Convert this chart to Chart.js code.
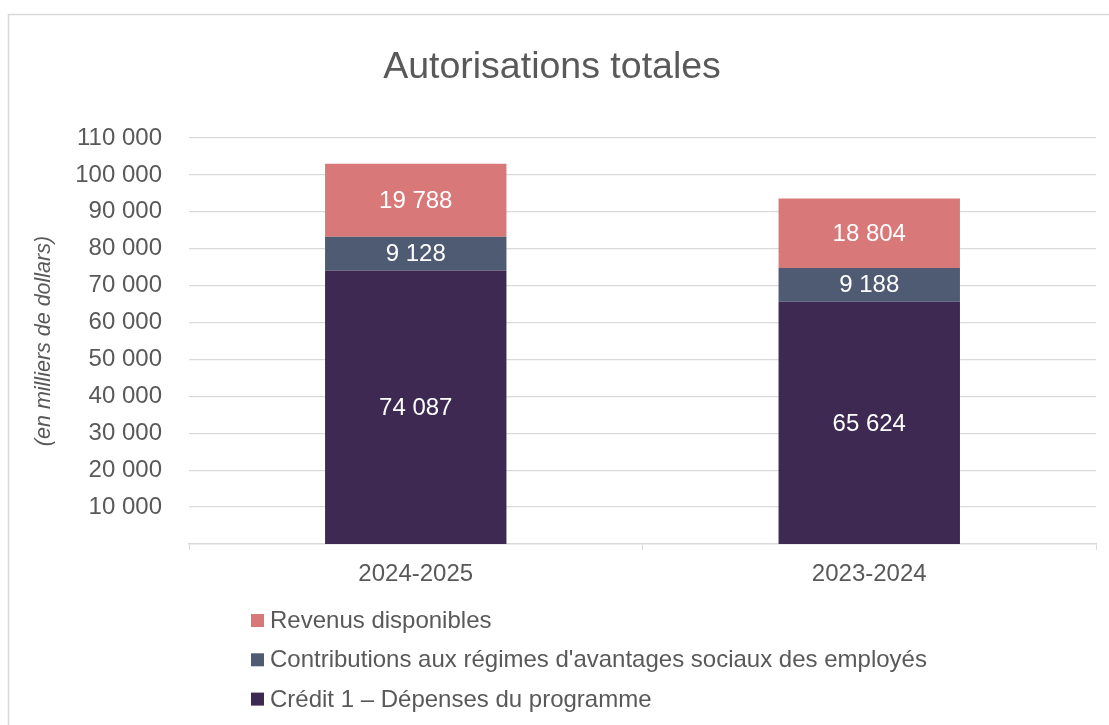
<!DOCTYPE html>
<html lang="fr">
<head>
<meta charset="utf-8">
<title>Autorisations totales</title>
<script src="https://cdn.jsdelivr.net/npm/chart.js@4.4.1/dist/chart.umd.min.js"></script>
<style>
  html, body { margin: 0; padding: 0; background: #ffffff; }
  #wrap { width: 1109px; height: 725px; position: relative; }
</style>
</head>
<body>
<div id="wrap"><canvas id="myChart"></canvas></div>
<script>
// Données du graphique
const categories = ['2024-2025', '2023-2024'];
const credit1 = [74087, 65624];
const contributions = [9128, 9188];
const revenus = [19788, 18804];
const yTicks = [0, 10000, 20000, 30000, 40000, 50000, 60000, 70000, 80000, 90000, 100000, 110000];

const gris = '#595959';
const ligne = '#D9D9D9';
const police = "'Liberation Sans', Arial, sans-serif";

// format 19 788
function espace(n) {
    return String(n).replace(/\B(?=(\d{3})+(?!\d))/g, ' ');
}

// fond blanc + cadre gris
const cadre = {
    id: 'cadre',
    beforeDraw(chart) {
        const ctx = chart.ctx;
        ctx.save();
        ctx.fillStyle = '#ffffff';
        ctx.fillRect(0, 0, chart.width, chart.height);
        ctx.strokeStyle = ligne;
        ctx.lineWidth = 1.5;
        ctx.strokeRect(8.5, 14.5, chart.width + 50, chart.height + 50);
        ctx.restore();
    }
};

// valeurs en blanc au centre de chaque segment
const etiquettes = {
    id: 'etiquettes',
    afterDatasetsDraw(chart) {
        const ctx = chart.ctx;
        ctx.save();
        ctx.fillStyle = '#ffffff';
        ctx.font = '24px ' + police;
        ctx.textAlign = 'center';
        ctx.textBaseline = 'middle';
        chart.data.datasets.forEach((ds, i) => {
            chart.getDatasetMeta(i).data.forEach((bar, j) => {
                const p = bar.getProps(['x', 'y', 'base'], true);
                ctx.fillText(espace(ds.data[j]), p.x, (p.y + p.base) / 2 + 1);
            });
        });
        ctx.restore();
    }
};

// légende verticale sous le graphique (ordre inverse des séries)
const legende = {
    id: 'legende',
    afterDraw(chart) {
        const ctx = chart.ctx;
        const x = 251;
        let y = chart.chartArea.bottom + 76.5;
        ctx.save();
        ctx.font = '24px ' + police;
        ctx.textBaseline = 'middle';
        ctx.textAlign = 'left';
        const ds = chart.data.datasets.slice().reverse();
        ds.forEach(d => {
            ctx.fillStyle = d.backgroundColor;
            ctx.fillRect(x, y - 6.5, 13, 13);
            ctx.fillStyle = gris;
            ctx.fillText(d.label, x + 19, y + 1);
            y += 39.3;
        });
        ctx.restore();
    }
};

const Grafico = document.getElementById('myChart');
new Chart(Grafico, {
    type: 'bar',
    data: {
        labels: categories,
        datasets: [
            { label: 'Crédit 1 – Dépenses du programme', data: credit1, backgroundColor: '#3E2953' },
            { label: "Contributions aux régimes d'avantages sociaux des employés", data: contributions, backgroundColor: '#4E5B73' },
            { label: 'Revenus disponibles', data: revenus, backgroundColor: '#D97878' }
        ]
    },
    options: {
        responsive: true,
        maintainAspectRatio: false,
        animation: false,
        datasets: {
            bar: { barPercentage: 1, categoryPercentage: 0.4 }
        },
        layout: {
            padding: { top: 0, left: 8, right: 13, bottom: 136 }
        },
        plugins: {
            legend: { display: false },
            tooltip: { enabled: false },
            title: {
                display: true,
                text: 'Autorisations totales',
                color: gris,
                font: { family: police, size: 37.5, weight: 'normal', lineHeight: 1.2 },
                padding: { top: 45, bottom: 48 }
            }
        },
        scales: {
            x: {
                stacked: true,
                grid: { display: true, drawOnChartArea: false, drawTicks: true, tickLength: 6, color: ligne },
                border: { display: true, color: ligne, width: 1.5 },
                ticks: { color: gris, font: { family: police, size: 24 }, padding: 10 },
                afterFit(scale) { scale.height = 45; }
            },
            y: {
                stacked: true,
                min: 0,
                max: 110000,
                afterBuildTicks(scale) {
                    scale.ticks = yTicks.map(v => ({ value: v }));
                },
                grid: { color: ligne, drawTicks: false, lineWidth: c => c.tick && c.tick.value === 0 ? 0 : 1.2 },
                border: { display: false },
                ticks: {
                    color: gris,
                    font: { family: police, size: 24 },
                    padding: 27,
                    callback: v => v === 0 ? '' : espace(v)
                },
                title: {
                    display: true,
                    text: '(en milliers de dollars)',
                    color: gris,
                    font: { family: police, size: 21.5, style: 'italic' },
                    padding: { top: 23, bottom: 22 }
                },
                afterFit(scale) { scale.width = 181; }
            }
        }
    },
    plugins: [cadre, etiquettes, legende]
});
</script>
</body>
</html>
